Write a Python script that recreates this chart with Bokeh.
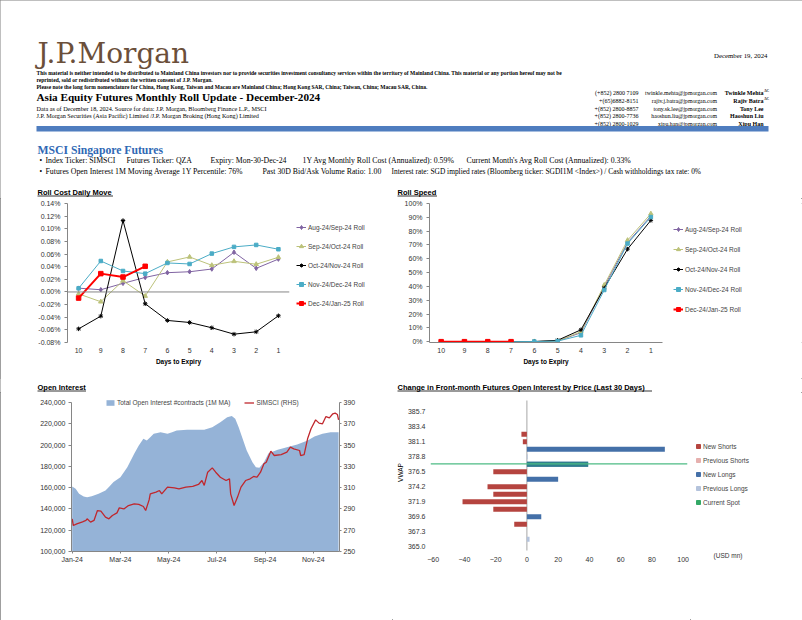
from bokeh.plotting import figure
from bokeh.models import (Range1d, LinearAxis, FixedTicker, SingleIntervalTicker,
                          PrintfTickFormatter, NumeralTickFormatter, Legend, LegendItem, Span)
from bokeh.layouts import column, row
from bokeh.core.properties import value
from bokeh.embed import file_html
from bokeh.resources import INLINE

# ---------------------------------------------------------------- data
days = [10, 9, 8, 7, 6, 5, 4, 3, 2, 1]
roll_names = ["Aug-24/Sep-24 Roll", "Sep-24/Oct-24 Roll", "Oct-24/Nov-24 Roll",
              "Nov-24/Dec-24 Roll", "Dec-24/Jan-25 Roll"]
# Roll cost daily move, in percent
cost_aug_sep = [0.006, 0.0035, 0.0136, 0.023, 0.0305, 0.032, 0.0363, 0.0628, 0.0374, 0.052]
cost_sep_oct = [-0.003, -0.0155, 0.0178, -0.0065, 0.0475, 0.0554, 0.0422, 0.0485, 0.0438, 0.0549]
cost_oct_nov = [-0.0584, -0.0383, 0.113, -0.0187, -0.0451, -0.0483, -0.0567, -0.0668, -0.0631, -0.0377]
cost_nov_dec = [0.0057, 0.049, 0.0332, 0.029, 0.0459, 0.0443, 0.0607, 0.0713, 0.0744, 0.0676]
cost_dec_jan = [-0.0097, 0.029, 0.0236, 0.0406]
# Roll speed, in percent
speed_aug_sep = [0, 0, 0, 0, 0.1, 0.5, 6.5, 39.8, 71.7, 90.9]
speed_sep_oct = [0, 0, 0, 0, 0.1, 0.5, 7.2, 41.0, 73.4, 92.6]
speed_oct_nov = [0, 0, 0, 0, 0.1, 1.0, 8.6, 38.8, 67.0, 87.8]
speed_nov_dec = [0, 0, 0, 0, 0.1, 0.4, 4.6, 37.4, 71.0, 90.2]
speed_dec_jan = [0, 0, 0, 0]

# Open interest (trading-day index since 2-Jan-24)
oi_day = [0, 3, 6, 10, 13, 17, 23, 29, 32, 36, 42, 48, 54, 58, 62, 65, 68, 71, 77, 83,
          87, 91, 100, 109, 115, 122, 129, 135, 139, 142, 145, 148, 152, 157, 160, 163,
          167, 171, 179, 187, 196, 205, 211, 218, 225, 232]
oi_contracts = [161000, 158900, 154200, 151700, 151000, 152000, 154200, 157300, 160500,
                165200, 169800, 179200, 191800, 199600, 205900, 204300, 207400, 210600,
                212100, 210600, 212100, 213700, 214300, 214300, 214300, 216800, 221500,
                226200, 227200, 224700, 216800, 207400, 194900, 183900, 179200, 178600,
                183900, 192400, 195500, 198000, 200500, 204300, 208100, 210600, 212100, 212100]
px_day = [0, 1, 4, 9, 12, 13, 16, 19, 22, 25, 29, 32, 35, 39, 41, 45, 49, 54, 58, 62,
          64, 67, 68, 73, 76, 78, 83, 89, 93, 99, 105, 110, 113, 115, 118, 122, 125, 129,
          134, 137, 138, 141, 144, 147, 151, 155, 158, 161, 164, 167, 169, 173, 176, 182,
          187, 190, 193, 198, 199, 202, 205, 208, 212, 215, 218, 221, 224, 227, 229, 231, 232]
px_simsci = [280.7, 274.4, 276, 277.9, 279.2, 280.7, 277.6, 279.2, 288.5, 287.9, 282.3,
             280.7, 283.8, 286.3, 291, 290, 293.2, 294.8, 294.2, 292.3, 288.5, 298.5, 304.2,
             305.8, 307.3, 304.2, 310.5, 309.8, 308.9, 310.5, 311.1, 313, 316.7, 312.1,
             324.5, 328.6, 324.5, 319.8, 316.7, 318.3, 304.2, 293.2, 301.1, 310.5, 316.7,
             318.3, 320.5, 319.8, 324.5, 332.4, 333.9, 344.3, 340.2, 341.1, 343.3, 348,
             346.5, 344.9, 340.2, 341.1, 355.9, 365.3, 373.7, 370.6, 370, 376.8, 375.6,
             379.4, 380, 378.7, 373.7]
oi_tick_days = [0, 42, 84, 126, 168, 210]
oi_tick_labels = ["Jan-24", "Mar-24", "May-24", "Jul-24", "Sep-24", "Nov-24"]
oi_axis = (100000, 240000)
px_axis = (250, 390)

# Change in front-month OI by price (USD mn)
vwap_levels = [365.0, 366.15, 367.3, 368.45, 369.6, 370.75, 371.9, 373.05, 374.2, 375.35,
               376.5, 377.65, 378.8, 379.95, 381.1, 382.25, 383.4, 384.55, 385.7, 386.85]
new_shorts = [0, 0, 0, -8.1, 0, -21.5, -41.2, -21.5, -25.2, 0, -21.5, 0, 0, 0, -2.6, -3.5, 0, 0, 0, 0]
previous_shorts = [0] * 20
new_longs = [0, 0, 0, 0, 9.2, 0, 0, 0, 0, 20, 0, 39.2, 0, 88.3, 0, 0, 0, 0, 0, 0]
previous_longs = [0, 1.7, 0, 0, 0, 0, 0, 0, 0, 0, 0, 0, 0.5, 0, 0, 0, 0, 0, 0, 0]
current_spot = 377.7
oi_series_names = ["New Shorts", "Previous Shorts", "New Longs", "Previous Longs", "Current Spot"]

# ---------------------------------------------------------------- styles
SANS = "Liberation Sans"
SERIF = "Liberation Serif"
TICK = "#333333"
AXIS = "#868686"
NAN = float("nan")


def text(fig, x, y, s, size, font=SERIF, style="normal", color="#000000", align="left",
         baseline="middle"):
    fig.text(x=[x], y=[y], text=[s], text_font=value(font), text_font_size=size,
             text_font_style=style, text_color=color, text_align=align,
             text_baseline=baseline)


def blank(x0, x1, y0, y1, top=0, bottom=0, right=0):
    # canvas spans page x0..x1, y0..y1; data coordinates equal page pixels inside the frame
    f = figure(width=x1 - x0, height=y1 - y0, x_range=Range1d(x0, x1 - right),
               y_range=Range1d(y1 - bottom, y0 + top), x_axis_type=None, y_axis_type=None,
               output_backend="svg", toolbar_location=None, min_border_left=0,
               min_border_right=right, min_border_top=top, min_border_bottom=bottom,
               outline_line_color=None)
    f.grid.visible = False
    return f


def chart(w, h, l, r, t, b, xr, yr):
    p = figure(width=w, height=h, x_range=xr, y_range=yr, output_backend="svg",
               toolbar_location=None, min_border_left=l, min_border_right=r,
               min_border_top=t, min_border_bottom=b)
    p.outline_line_color = None
    p.grid.visible = False
    for ax in p.axis:
        ax.major_label_text_font = SANS
        ax.major_label_text_font_size = "7px"
        ax.major_label_text_color = TICK
        ax.axis_label_text_font = SANS
        ax.axis_label_text_font_size = "6.5px"
        ax.axis_label_text_color = "#000000"
        ax.minor_tick_line_color = None
        ax.axis_line_color = AXIS
        ax.major_tick_line_color = AXIS
        ax.major_tick_in = 0
        ax.major_tick_out = 3
    return p


# ---------------------------------------------------------------- header
hdr = blank(0, 802, 0, 198)
text(hdr, 37, 53, "J.P.Morgan", "28px", font="DejaVu Serif", color="#6B4F3A")
disc = ["This material is neither intended to be distributed to Mainland China investors nor to provide securities investment consultancy services within the territory of Mainland China. This material or any portion hereof may not be",
        "reprinted, sold or redistributed without the written consent of J.P. Morgan.",
        "Please note the long form nomenclature for China, Hong Kong, Taiwan and Macau are Mainland China; Hong Kong SAR, China; Taiwan, China; Macau SAR, China."]
for s, y in zip(disc, [72.5, 79.4, 86.3]):
    text(hdr, 36, y, s, "5.5px", style="bold")
text(hdr, 36, 96.5, "Asia Equity Futures Monthly Roll Update - December-2024", "11.2px", style="bold")
text(hdr, 36, 107.5, "Data as of December 18, 2024.  Source for data: J.P. Morgan, Bloomberg Finance L.P., MSCI", "6.2px")
text(hdr, 36, 114.5, "J.P. Morgan Securities (Asia Pacific) Limited /J.P. Morgan Broking (Hong Kong) Limited", "6.2px")
text(hdr, 767, 55, "December 19, 2024", "6.8px", align="right")
phones = ["(+852) 2800 7109", "+(65)6882-8151", "+(852) 2800-8857", "+(852) 2800-7736", "+(852) 2800-1029"]
emails = ["twinkle.mehta@jpmorgan.com", "rajiv.j.batra@jpmorgan.com", "tony.sk.lee@jpmorgan.com",
          "haoshun.liu@jpmorgan.com", "xipu.han@jpmorgan.com"]
names = ["Twinkle Mehta", "Rajiv Batra", "Tony Lee", "Haoshun Liu", "Xipu Han"]
ac = [True, True, False, False, False]
for i, yy in enumerate([92.7, 100.4, 108.0, 115.7, 123.0]):
    text(hdr, 638, yy, phones[i], "6px", align="right")
    text(hdr, 716.5, yy, emails[i], "5.8px", align="right")
    text(hdr, 763, yy, names[i], "6px", style="bold", align="right")
    if ac[i]:
        text(hdr, 763.5, yy - 2, "AC", "3.6px", style="bold")
hdr.quad(left=36, right=768, top=125.5, bottom=131, fill_color="#4F7DBF", line_color=None)
text(hdr, 37, 149.5, "MSCI Singapore Futures", "11.7px", style="bold", color="#2F68B4")
line1 = [(45, "Index Ticker: SIMSCI"), (126, "Futures Ticker: QZA"), (210, "Expiry: Mon-30-Dec-24"),
         (302, "1Y Avg Monthly Roll Cost (Annualized): 0.59%"),
         (466, "Current Month's Avg Roll Cost (Annualized): 0.33%")]
line2 = [(45, "Futures Open Interest 1M Moving Average 1Y Percentile: 76%"),
         (262, "Past 30D Bid/Ask Volume Ratio: 1.00")]
text(hdr, 39, 159.5, "\u2022", "7.5px")
text(hdr, 39, 171, "\u2022", "7.5px")
for x, s in line1:
    text(hdr, x, 159.5, s, "7.8px")
for x, s in line2:
    text(hdr, x, 171, s, "7.8px")
text(hdr, 391, 171, "Interest rate: SGD implied rates (Bloomberg ticker: SGDI1M <Index>) / Cash withholdings tax rate: 0%", "7.4px")
# chart titles (row 1)
text(hdr, 37, 191.5, "Roll Cost Daily Move", "7.5px", font=SANS, style="bold")
text(hdr, 397, 191.5, "Roll Speed", "7.5px", font=SANS, style="bold")
hdr.segment(x0=[37, 397], y0=[195.5, 195.5], x1=[112.5, 436.5], y1=[195.5, 195.5],
            line_color="#000000", line_width=0.8)

# ---------------------------------------------------------------- charts 1 and 2 (row y 198..378)
R1_TOP, R1_BOTTOM = 5, 36
series_style = [("#8064A2", "diamond", 4.5, 1.0), ("#BCC27A", "triangle", 4.5, 1.0),
                ("#000000", "asterisk", 4.5, 1.0), ("#4BACC6", "square", 3.5, 1.0),
                ("#FF0000", "square", 4.5, 2.0)]


def roll_lines(p, series):
    for vals, (col, mk, sz, lw) in zip(series, series_style):
        xs = days[:len(vals)]
        p.line(xs, vals, line_color=col, line_width=lw)
        p.scatter(xs, vals, marker=mk, size=sz, line_color=col, fill_color=col)


def roll_legend(f, vx, vy, gap):
    items = []
    for name, (col, mk, sz, lw) in zip(roll_names, series_style):
        lr = f.line(x=[NAN], y=[NAN], line_color=col, line_width=lw)
        sr = f.scatter(x=[NAN], y=[NAN], marker=mk, line_color=col, fill_color=col)
        items.append(LegendItem(label=name, renderers=[lr, sr]))
    f.add_layout(Legend(items=items, location=(vx, vy), border_line_color=None,
                        background_fill_alpha=0, padding=0, margin=0, spacing=gap,
                        glyph_width=10, glyph_height=12, label_height=12, label_standoff=2,
                        label_text_font=SANS, label_text_font_size="6.5px"))


def days_axis(p):
    p.xaxis.ticker = FixedTicker(ticks=days)
    p.xaxis.major_tick_line_color = None
    p.xaxis.major_label_standoff = 2
    p.xaxis.axis_label = "Days to Expiry"
    p.xaxis.axis_label_standoff = 2
    p.xaxis.axis_label_text_font_style = "bold"
    p.yaxis.major_label_standoff = 4


p1 = chart(292, 180, 67, 3, R1_TOP, R1_BOTTOM, Range1d(10.5, 0.5), Range1d(-0.08, 0.14))
days_axis(p1)
p1.xaxis.axis_line_color = None
p1.yaxis.ticker = SingleIntervalTicker(interval=0.02, num_minor_ticks=0)
p1.yaxis.formatter = PrintfTickFormatter(format="%.2f%%")
p1.add_layout(Span(location=0, dimension="width", line_color=AXIS, line_width=1))
roll_lines(p1, [cost_aug_sep, cost_sep_oct, cost_oct_nov, cost_nov_dec, cost_dec_jan])
lg1 = blank(292, 392, 198, 378, top=R1_TOP, bottom=R1_BOTTOM)
roll_legend(lg1, 4, 33, 7)

p2 = chart(273, 180, 37, 3, R1_TOP, R1_BOTTOM, Range1d(10.5, 0.5), Range1d(-0.6, 100))
days_axis(p2)
p2.yaxis.ticker = SingleIntervalTicker(interval=10, num_minor_ticks=0)
p2.yaxis.formatter = PrintfTickFormatter(format="%d%%")
roll_lines(p2, [speed_aug_sep, speed_sep_oct, speed_oct_nov, speed_nov_dec, speed_dec_jan])
lg2 = blank(665, 802, 198, 378, top=R1_TOP, bottom=R1_BOTTOM)
roll_legend(lg2, 8, 27, 8)

# ---------------------------------------------------------------- strip with row-2 titles
strip = blank(0, 802, 378, 392)
text(strip, 37, 386.5, "Open Interest", "7.5px", font=SANS, style="bold")
text(strip, 397, 386.5, "Change in Front-month Futures Open Interest by Price (Last 30 Days)", "7.5px",
     font=SANS, style="bold")
strip.segment(x0=[37, 397], y0=[390.5, 390.5], x1=[85.5, 651.5], y1=[390.5, 390.5],
              line_color="#000000", line_width=0.8)

# ---------------------------------------------------------------- chart 3 (row y 392..620)
R2_TOP, R2_BOTTOM = 1, 69
top_pad = 9 / 149  # room above the top tick for the legend
oi_pad = (oi_axis[1] - oi_axis[0]) * top_pad
px_pad = (px_axis[1] - px_axis[0]) * top_pad
p3 = chart(392, 228, 71, 53, R2_TOP, R2_BOTTOM, Range1d(-0.6, 232.8),
           Range1d(oi_axis[0], oi_axis[1] + oi_pad))
p3.extra_y_ranges = {"px": Range1d(px_axis[0], px_axis[1] + px_pad)}
ra = LinearAxis(y_range_name="px", bounds=px_axis,
                ticker=FixedTicker(ticks=list(range(px_axis[0], px_axis[1] + 1, 20))))
ra.major_label_text_font = SANS
ra.major_label_text_font_size = "7px"
ra.major_label_text_color = TICK
ra.axis_line_color = AXIS
ra.major_tick_line_color = AXIS
ra.major_tick_in = 0
ra.major_tick_out = 2
ra.minor_tick_line_color = None
ra.major_label_standoff = 2
p3.add_layout(ra, "right")
p3.yaxis[0].bounds = oi_axis
p3.yaxis[0].ticker = SingleIntervalTicker(interval=20000, num_minor_ticks=0)
p3.yaxis[0].formatter = NumeralTickFormatter(format="0,0")
p3.yaxis[0].major_label_standoff = 3
p3.xaxis.ticker = FixedTicker(ticks=oi_tick_days)
p3.xaxis.major_label_overrides = dict(zip(oi_tick_days, oi_tick_labels))
p3.xaxis.major_tick_out = 2
p3.xaxis.major_label_standoff = 2
ar = p3.varea(x=oi_day, y1=[oi_axis[0]] * len(oi_day), y2=oi_contracts, fill_color="#95B3D7")
lr = p3.line(px_day, px_simsci, y_range_name="px", line_color="#C0272D", line_width=1.3)
leg3 = Legend(items=[LegendItem(label="Total Open Interest #contracts (1M MA)", renderers=[ar]),
                     LegendItem(label="SIMSCI (RHS)", renderers=[lr])],
              orientation="horizontal", location=(34, 145), border_line_color=None,
              background_fill_alpha=0, padding=0, margin=0, spacing=14, glyph_width=10,
              glyph_height=7, label_height=7, label_standoff=2, label_text_font=SANS,
              label_text_font_size="6.5px")
p3.add_layout(leg3)

# ---------------------------------------------------------------- chart 4
step = vwap_levels[1] - vwap_levels[0]
y_lo = vwap_levels[0] - step / 2
y_hi = vwap_levels[-1] + step / 2
px_per_unit = 150 / (y_hi - y_lo)
p4 = chart(298, 228, 38, 3, R2_TOP, R2_BOTTOM, Range1d(-61.7, 102.8),
           Range1d(y_lo - 1 / px_per_unit, y_hi + 7 / px_per_unit))
p4.xaxis.ticker = SingleIntervalTicker(interval=20, num_minor_ticks=0)
p4.xaxis.axis_line_color = None
p4.xaxis.major_tick_line_color = None
p4.xaxis.major_label_standoff = 2
p4.yaxis.ticker = FixedTicker(ticks=vwap_levels[::2])
p4.yaxis.formatter = PrintfTickFormatter(format="%.1f")
p4.yaxis.axis_line_color = None
p4.yaxis.major_tick_line_color = None
p4.yaxis.major_label_standoff = 2
p4.yaxis.axis_label = "VWAP"
p4.yaxis.axis_label_standoff = 1
p4.yaxis.axis_label_text_font_style = "normal"
p4.segment(x0=[0], y0=[y_lo], x1=[0], y1=[y_hi], line_color="#A6A6A6", line_width=1)
bar_h = step * 0.65
cols4 = ["#B5443F", "#E6B0AE", "#4470A8", "#B4C3DC", "#33A866"]
for vals, col in zip([new_shorts, previous_shorts, new_longs, previous_longs], cols4):
    p4.hbar(y=vwap_levels, left=0, right=vals, height=bar_h, fill_color=col, line_color=None)
spot_i = min(range(len(vwap_levels)), key=lambda i: abs(vwap_levels[i] - current_spot))
p4.hbar(y=[vwap_levels[spot_i]], left=0, right=[new_longs[spot_i]], height=bar_h,
        fill_color="#2F7F8C", line_color=None)
p4.add_layout(Span(location=current_spot, dimension="width", line_color="#4DBB84", line_width=1.3))

lg4 = blank(690, 802, 392, 620, top=R2_TOP, bottom=R2_BOTTOM, right=37)
proxies = [lg4.scatter(x=[NAN], y=[NAN], marker="square", fill_color=c, line_color=c) for c in cols4]
lg4.add_layout(Legend(items=[LegendItem(label=n, renderers=[r]) for n, r in zip(oi_series_names, proxies)],
                      location=(3, 44), border_line_color=None, background_fill_alpha=0,
                      padding=0, margin=0, spacing=4, glyph_width=10, glyph_height=10,
                      label_height=10, label_standoff=0, label_text_font=SANS,
                      label_text_font_size="6.5px"))
unit_axis = LinearAxis(ticker=FixedTicker(ticks=[]), axis_label="(USD mn)")
unit_axis.axis_line_color = None
unit_axis.major_tick_line_color = None
unit_axis.minor_tick_line_color = None
unit_axis.major_tick_out = 0
unit_axis.major_label_standoff = 0
unit_axis.axis_label_standoff = 0
unit_axis.axis_label_text_font = SANS
unit_axis.axis_label_text_font_size = "6.5px"
unit_axis.axis_label_text_font_style = "normal"
unit_axis.axis_label_text_color = TICK
lg4.add_layout(unit_axis, "below")

# ---------------------------------------------------------------- page
page = column(hdr, row(p1, lg1, p2, lg2, spacing=0), strip, row(p3, p4, lg4, spacing=0),
              spacing=0, styles={"outline": "1.5px solid #7F7F7F", "outline-offset": "-1.5px"})
open("out.html", "w").write(file_html(page, INLINE))
